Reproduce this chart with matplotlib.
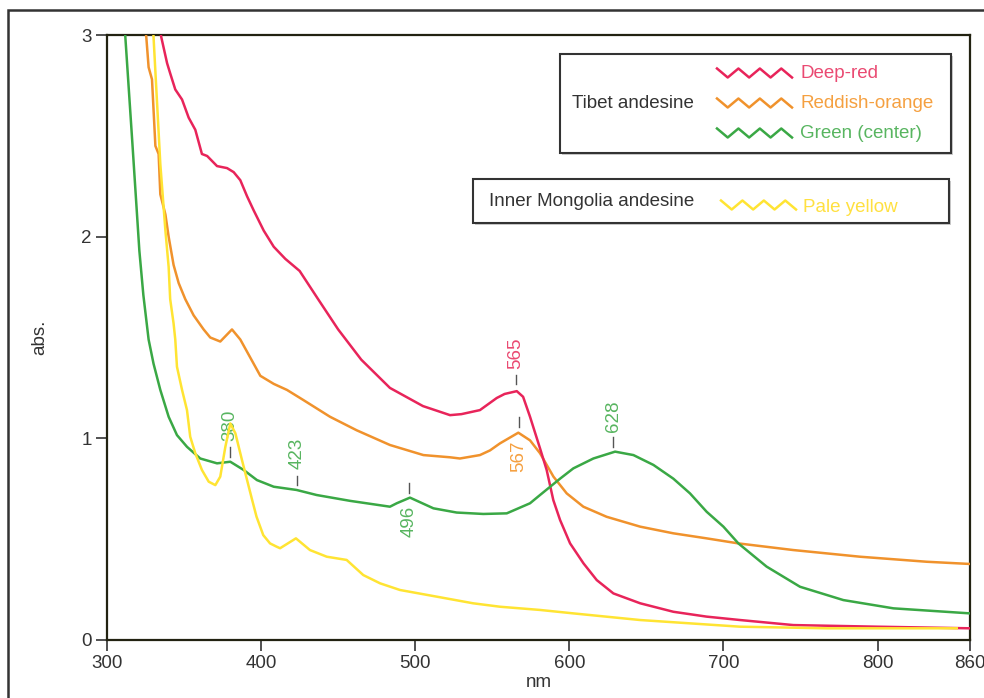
import matplotlib
matplotlib.use("Agg")
import matplotlib.pyplot as plt
from matplotlib.patches import Rectangle
from matplotlib.lines import Line2D

plt.rcParams['font.family'] = ['Liberation Sans', 'DejaVu Sans']

# absorption spectra (nm, abs.)
red_nm = [334, 335.2, 339, 341, 344.3, 348.7, 353, 357.3, 361.6, 365, 371.4, 377.9, 382.2, 386.5,
          390.9, 395.2, 401.7, 408.2, 415.7, 425, 437, 450, 465, 483.6, 505, 522.6, 530, 542,
          552.9, 558, 565.9, 570, 574.5, 581, 585.3, 589.6, 594, 600.5, 609.2, 617.8, 628.6, 646,
          667.5, 689, 710.8, 745.4, 799.5, 860]
red_abs = [3.05, 2.99, 2.86, 2.81, 2.73, 2.68, 2.59, 2.53, 2.41, 2.40, 2.35, 2.34, 2.32, 2.28,
           2.20, 2.13, 2.03, 1.95, 1.89, 1.83, 1.69, 1.54, 1.39, 1.25, 1.16, 1.115, 1.12, 1.14,
           1.20, 1.22, 1.234, 1.206, 1.107, 0.95, 0.843, 0.694, 0.595, 0.479, 0.38, 0.297, 0.231, 0.182,
           0.14, 0.116, 0.099, 0.074, 0.066, 0.058]

orange_nm = [324.5, 325.5, 327, 329.2, 331.4, 333.5, 334.6, 337.9, 340, 343.2, 346.5, 350.8, 356.2,
             362.7, 367, 373.5, 381.1, 386.5, 393, 399.5, 408.2, 416.8, 427.4, 444.7, 462, 483.6,
             505.3, 522.6, 529, 542, 548.5, 555, 566.9, 574.5, 581, 589.7, 598.3, 609.1, 624.2,
             646, 667.5, 689.1, 709.7, 745.4, 788.6, 831.9, 860]
orange_abs = [3.05, 2.99, 2.84, 2.78, 2.45, 2.41, 2.21, 2.11, 2.0, 1.86, 1.77, 1.69, 1.61,
              1.54, 1.50, 1.48, 1.54, 1.49, 1.40, 1.31, 1.27, 1.24, 1.19, 1.107, 1.04, 0.967,
              0.917, 0.906, 0.90, 0.917, 0.94, 0.975, 1.028, 0.99, 0.926, 0.81, 0.727, 0.661, 0.611,
              0.562, 0.529, 0.504, 0.479, 0.446, 0.413, 0.388, 0.377]

green_nm = [311.5, 311.9, 316.5, 321, 323.6, 327, 330.2, 334.6, 340, 345.4, 351.9,
            360.5, 371.4, 380, 388.7, 397.3, 408.2, 423, 436, 457.7, 483.6, 488, 496.6, 511.8,
            526.9, 544.2, 559.4, 574.5, 581, 594, 602.6, 615.6, 629.7, 641.6, 654.6, 667.5, 678.3,
            689.1, 700, 709.7, 728, 749.7, 777.8, 810.3, 860]
green_abs = [3.05, 2.99, 2.46, 1.93, 1.71, 1.49, 1.37, 1.24, 1.107, 1.016, 0.958,
             0.90, 0.876, 0.884, 0.843, 0.793, 0.76, 0.744, 0.719, 0.69, 0.661, 0.678, 0.706, 0.653,
             0.632, 0.625, 0.628, 0.678, 0.719, 0.80, 0.851, 0.90, 0.934, 0.917, 0.868, 0.80, 0.727,
             0.636, 0.562, 0.479, 0.364, 0.264, 0.198, 0.157, 0.132]

yellow_nm = [329.8, 330.2, 334.6, 337.9, 340, 341, 343.2, 344.3, 345.4, 348.7, 351.9, 354, 357.3,
             361.6, 366, 370.3, 373.5, 376.8, 380, 383.3, 387.6, 394, 397, 401.4, 405.8, 410,
             412.3, 422.6, 431.7, 442.6, 455.5, 466.3, 477.2, 490.1, 513.9, 537.6, 555, 581, 602.6,
             646, 710.8, 767, 851.4]
yellow_abs = [3.05, 2.99, 2.36, 2.03, 1.85, 1.69, 1.57, 1.49, 1.355, 1.24, 1.14, 1.008, 0.926,
              0.843, 0.785, 0.768, 0.81, 0.958, 1.074, 1.025, 0.892, 0.70, 0.612, 0.52, 0.479, 0.463,
              0.455, 0.504, 0.446, 0.413, 0.397, 0.322, 0.281, 0.248, 0.215, 0.182, 0.165, 0.149, 0.132,
              0.099, 0.066, 0.058, 0.058]

# peak marks: label, x, tick bottom, tick top, text centre y, colour
peak_labels = ['380', '423', '496', '565', '567', '628']
peak_x = [379.8, 423.3, 496, 565.4, 567.4, 628.4]
peak_tick_lo = [0.907, 0.768, 0.729, 1.269, 1.056, 0.957]
peak_tick_hi = [0.957, 0.813, 0.778, 1.314, 1.106, 1.006]
peak_text_y = [1.066, 0.925, 0.59, 1.42, 0.912, 1.11]

c_red, c_orange, c_green, c_yellow = '#e8245a', '#f0922c', '#3aa845', '#ffe433'
t_red, t_orange, t_green, t_yellow = '#ea4a72', '#f5a040', '#58b560', '#ffe040'
peak_colors = [t_green, t_green, t_green, t_red, t_orange, t_green]

W, H = 984, 698
fig = plt.figure(figsize=(W / 100, H / 100), dpi=100)
ax = fig.add_axes([107 / W, 1 - 640 / H, (970 - 107) / W, (640 - 35) / H])

lw = 1.8
ax.plot(orange_nm, orange_abs, color=c_orange, lw=lw, zorder=3)
ax.plot(red_nm, red_abs, color=c_red, lw=lw, zorder=3)
ax.plot(green_nm, green_abs, color=c_green, lw=lw, zorder=3)
ax.plot(yellow_nm, yellow_abs, color=c_yellow, lw=lw, zorder=4)

for lab, x, lo, hi, ty, col in zip(peak_labels, peak_x, peak_tick_lo, peak_tick_hi, peak_text_y, peak_colors):
    ax.plot([x, x], [lo, hi], color='#555555', lw=1.0, zorder=2)
    ax.text(x, ty, lab, rotation=90, ha='center', va='center', color=col, fontsize=13.5, zorder=2)

ax.set_xlim(300, 860)
ax.set_ylim(0, 3)
ax.set_xticks([300, 400, 500, 600, 700, 800, 860])
ax.set_yticks([0, 1, 2, 3])
ax.tick_params(direction='out', length=8, width=1.2, color='#333333', labelcolor='#333333',
               labelsize=13.5, pad=3)
for s in ax.spines.values():
    s.set_color('#222211')
    s.set_linewidth(1.6)
ax.set_xlabel('nm', fontsize=13.5, color='#333333', labelpad=1)
ax.set_ylabel('abs.', fontsize=13.5, color='#333333', labelpad=24)

# outer frame
fig.patches.append(Rectangle((8 / W, -0.1), 1.1, 1 - 10 / H + 0.1, transform=fig.transFigure,
                             fill=False, ec='#333333', lw=1.8))


def box(x0, y0, x1, y1):
    fig.patches.append(Rectangle(((x0 + 2) / W, 1 - (y1 + 2) / H), (x1 - x0) / W, (y1 - y0) / H,
                                 transform=fig.transFigure, fc='#cccccc', ec='none', zorder=5))
    fig.patches.append(Rectangle((x0 / W, 1 - y1 / H), (x1 - x0) / W, (y1 - y0) / H,
                                 transform=fig.transFigure, fc='white', ec='#333333', lw=1.5, zorder=6))


def zigzag(x0, y0, color):
    xs = [x0 + i * 75 / 7 for i in range(8)]
    ys = [y0 - 4.5 if i % 2 == 0 else y0 + 4.5 for i in range(8)]
    fig.lines.append(Line2D([x / W for x in xs], [1 - y / H for y in ys], transform=fig.transFigure,
                            color=color, lw=1.8, zorder=7))


box(560, 54, 951, 153)
fig.text(572 / W, 1 - 103 / H, 'Tibet andesine', fontsize=13.5, color='#333333', va='center', zorder=7)
tibet_names = ['Deep-red', 'Reddish-orange', 'Green (center)']
tibet_colors = [(c_red, t_red), (c_orange, t_orange), (c_green, t_green)]
for i, (nm, (lc, tc)) in enumerate(zip(tibet_names, tibet_colors)):
    yy = 73 + i * 30
    zigzag(717, yy, lc)
    fig.text(800 / W, 1 - (yy + 1) / H, nm, fontsize=13.5, color=tc, va='center', zorder=7)

box(473, 179, 949, 223)
fig.text(489 / W, 1 - 202 / H, 'Inner Mongolia andesine', fontsize=13.5, color='#333333', va='center', zorder=7)
zigzag(721, 205, c_yellow)
fig.text(803 / W, 1 - 207 / H, 'Pale yellow', fontsize=13.5, color=t_yellow, va='center', zorder=7)

fig.savefig('out.png', dpi=100)
